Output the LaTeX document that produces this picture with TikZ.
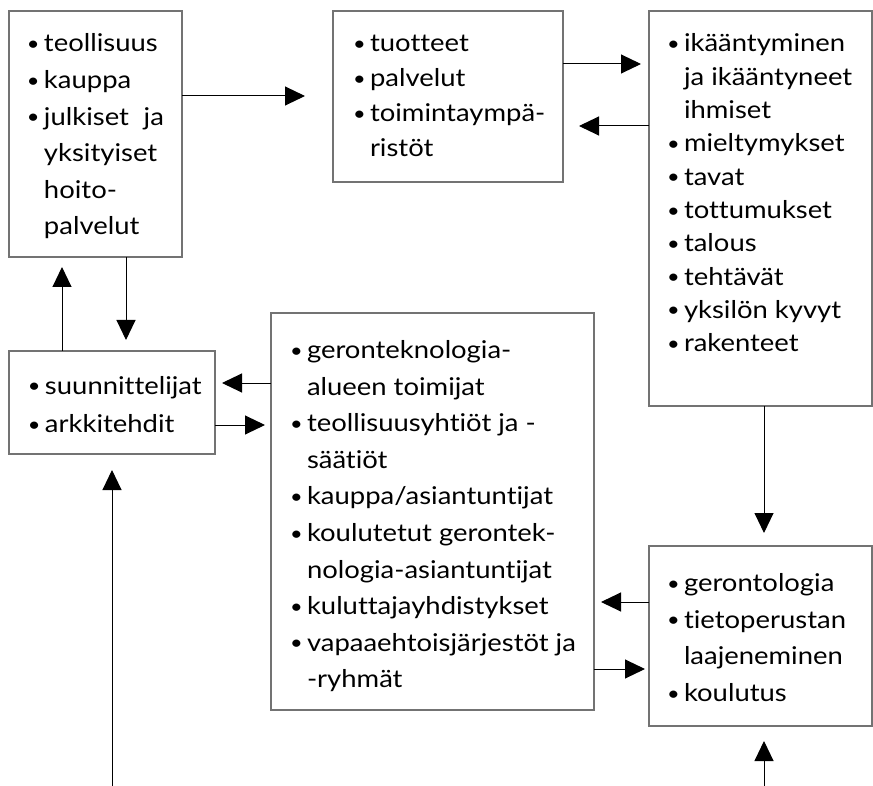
\documentclass[tikz,border=0pt]{standalone}
\usepackage{fontspec}
\setmainfont{Lato}[Ligatures=NoCommon, FakeStretch=1.12]
\usetikzlibrary{arrows.meta,calc}

% bullet and hanging indent for the item lists
\newcommand\bu{\makebox[18pt][l]{\hspace{1pt}\raisebox{1.4pt}{\fontsize{19.5}{19.5}\selectfont\textbullet}}}
\newcommand\hang{\hspace*{18pt}}
% item list: #1 = line pitch, #2 = rows
\newcommand\itemrows[2]{{\fontsize{24.5}{#1}\selectfont
  \begin{tabular}[t]{@{}l@{}}#2\end{tabular}}}

\tikzset{
  panel/.style={draw=black!55, line width=1.2pt, inner sep=0pt, outer sep=0pt,
    anchor=north west},
  itemtext/.style={inner sep=0pt, outer sep=0pt, anchor=base west, text=black},
  flow/.style={draw=black, line width=1pt,
    -{Triangle[length=20pt,width=19pt]}},
}

\begin{document}
\begin{tikzpicture}[x=1pt, y=-1pt]
\useasboundingbox (0,0) rectangle (873,786);

% boxes
\node[panel, minimum width=173pt, minimum height=246pt] (b1) at (9,11) {};
\node[panel, minimum width=230pt, minimum height=171pt] (b2) at (333,11) {};
\node[panel, minimum width=223pt, minimum height=395pt] (b3) at (649,11) {};
\node[panel, minimum width=206pt, minimum height=103pt] (b4) at (9,351) {};
\node[panel, minimum width=323pt, minimum height=397pt] (b5) at (271,313) {};
\node[panel, minimum width=223pt, minimum height=180pt] (b6) at (649,546) {};

% box contents
\node[itemtext] (t1) at ($(b1.north west)+(17,41)$) {\itemrows{36.6pt}{%
  \bu teollisuus\\
  \bu kauppa\\
  \bu julkiset\hspace{0.6em}ja\\
  \hang yksityiset\\
  \hang hoito-\\
  \hang palvelut}};
\node[itemtext] (t2) at ($(b2.north west)+(19,41)$) {\itemrows{35pt}{%
  \bu tuotteet\\
  \bu palvelut\\
  \bu toimintaympä-\\
  \hang ristöt}};
\node[itemtext] (t3) at ($(b3.north west)+(17,41)$) {\itemrows{33.3pt}{%
  \bu ikääntyminen\\
  \hang ja ikääntyneet\\
  \hang ihmiset\\
  \bu mieltymykset\\
  \bu tavat\\
  \bu tottumukset\\
  \bu talous\\
  \bu tehtävät\\
  \bu yksilön kyvyt\\
  \bu rakenteet}};
\node[itemtext] (t4) at ($(b4.north west)+(18,43)$) {\itemrows{39pt}{%
  \bu suunnittelijat\\
  \bu arkkitehdit}};
\node[itemtext] (t5) at ($(b5.north west)+(18,45.6)$) {\itemrows{36.6pt}{%
  \bu geronteknologia-\\
  \hang alueen toimijat\\
  \bu teollisuusyhtiöt ja -\\
  \hang säätiöt\\
  \bu kauppa/asiantuntijat\\
  \bu koulutetut gerontek-\\
  \hang nologia-asiantuntijat\\
  \bu kuluttajayhdistykset\\
  \bu vapaaehtoisjärjestöt ja\\
  \hang -ryhmät}};
\node[itemtext] (t6) at ($(b6.north west)+(17,45.5)$) {\itemrows{36.7pt}{%
  \bu gerontologia\\
  \bu tietoperustan\\
  \hang laajeneminen\\
  \bu koulutus}};

% connectors between boxes
\draw[flow, shorten >=28pt] ($(b1.north east)+(0,85)$) -- ($(b2.north west)+(0,85)$);
\draw[flow, shorten >=8pt] ($(b2.north east)+(0,53)$) -- ($(b3.north west)+(0,53)$);
\draw[flow, shorten >=16pt] ($(b3.north west)+(0,115)$) -- ($(b2.north east)+(0,115)$);
\draw[flow, shorten >=11pt] ($(b1.south west)+(117,0)$) -- ($(b4.north west)+(117,0)$);
\draw[flow, shorten >=10pt] ($(b4.north west)+(53,0)$) -- ($(b1.south west)+(53,0)$);
\draw[flow, shorten >=7pt] ($(b5.north west)+(0,70)$) -- ($(b4.north east)+(0,32)$);
\draw[flow, shorten >=6pt] ($(b4.north east)+(0,74)$) -- ($(b5.north west)+(0,112)$);
\draw[flow, shorten >=13pt] ($(b3.south west)+(115,0)$) -- ($(b6.north west)+(115,0)$);
\draw[flow, shorten >=7pt] ($(b6.north west)+(0,56)$) -- ($(b5.north east)+(0,289)$);
\draw[flow, shorten >=4pt] ($(b5.north east)+(0,356)$) -- ($(b6.north west)+(0,123)$);

% inputs entering from below
\coordinate (inL) at (112,786);
\coordinate (inR) at (764,786);
\draw[flow, shorten >=16pt] (inL) -- (inL |- b4.south);
\draw[flow, shorten >=15pt] (inR) -- (inR |- b6.south);
\end{tikzpicture}
\end{document}
